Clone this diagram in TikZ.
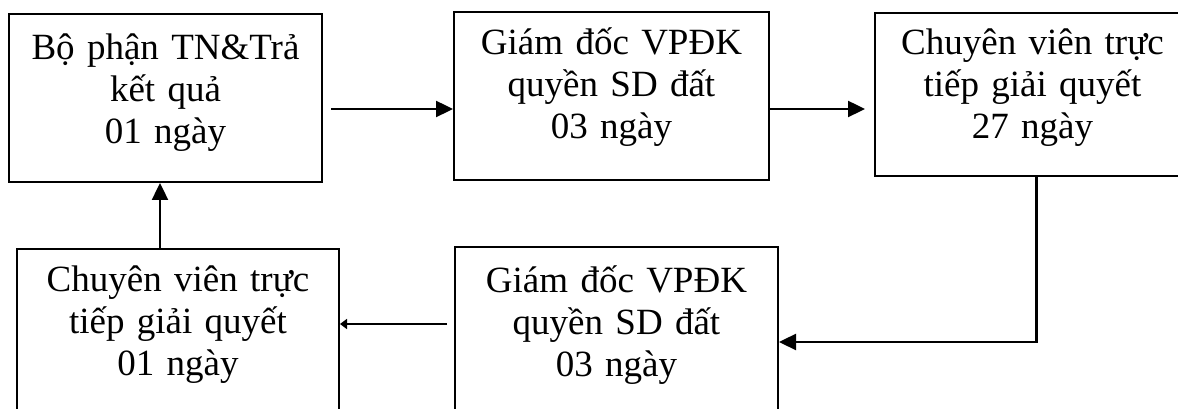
\documentclass[tikz,border=0pt]{standalone}
\usepackage{fontspec}
\setmainfont{Liberation Serif}
\usepackage{tikz}
\usetikzlibrary{arrows.meta, positioning}

\tikzset{
  box/.style = {draw, line width=2pt, anchor=north west, minimum width=315pt, minimum height=168pt},
  txt/.style = {font=\fontsize{37}{42}\selectfont, align=center, text width=300pt, inner sep=0pt, anchor=base},
  arr/.style = {-{Triangle[length=17pt, width=16pt]}, line width=2.4pt},
}

\begin{document}
\begin{tikzpicture}[x=1pt, y=1pt]
\useasboundingbox (0,0) rectangle (1178,409);
\clip (0,0) rectangle (1178,409);

\node[box, minimum width=313pt] (b1) at (8,396) {};
\node[box] (b2) at (453,398) {};
\node[box, minimum height=163pt] (b3) at (874,397) {};
\node[box, minimum width=322pt, minimum height=200pt] (b4) at (16,161) {};
\node[box, minimum width=323pt, minimum height=200pt] (b5) at (454,163) {};

\node[txt] (t1) at ([yshift=-47pt]b1.north) {Bộ phận TN\&Trả\\kết quả\\01 ngày};
\node[txt] (t2) at ([yshift=-44pt]b2.north) {Giám đốc VPĐK\\quyền SD đất\\03 ngày};
\node[txt] (t3) at ([yshift=-43pt]b3.north) {Chuyên viên trực\\tiếp giải quyết\\27 ngày};
\node[txt] (t4) at ([yshift=-44pt]b4.north) {Chuyên viên trực\\tiếp giải quyết\\01 ngày};
\node[txt] (t5) at ([yshift=-47pt]b5.north) {Giám đốc VPĐK\\quyền SD đất\\03 ngày};

\draw[arr, shorten <=8pt] ([yshift=-11pt]b1.east) -- ([yshift=-11pt]b1.east -| b2.west);
\draw[arr, shorten >=9pt] ([yshift=-13pt]b2.east) -- ([yshift=-13pt]b2.east -| b3.west);
\draw[arr] ([xshift=4pt]b3.south) |- ([yshift=-96pt]b5.north east);
\draw[-{Triangle[length=7pt, width=10pt]}, line width=2.4pt, shorten <=7pt] ([yshift=-78pt]b5.north west) -- ([yshift=-78pt]b5.north west -| b4.east);
\draw[arr] ([xshift=144pt]b4.north west) -- ([xshift=144pt]b4.north west |- b1.south);
\end{tikzpicture}
\end{document}
